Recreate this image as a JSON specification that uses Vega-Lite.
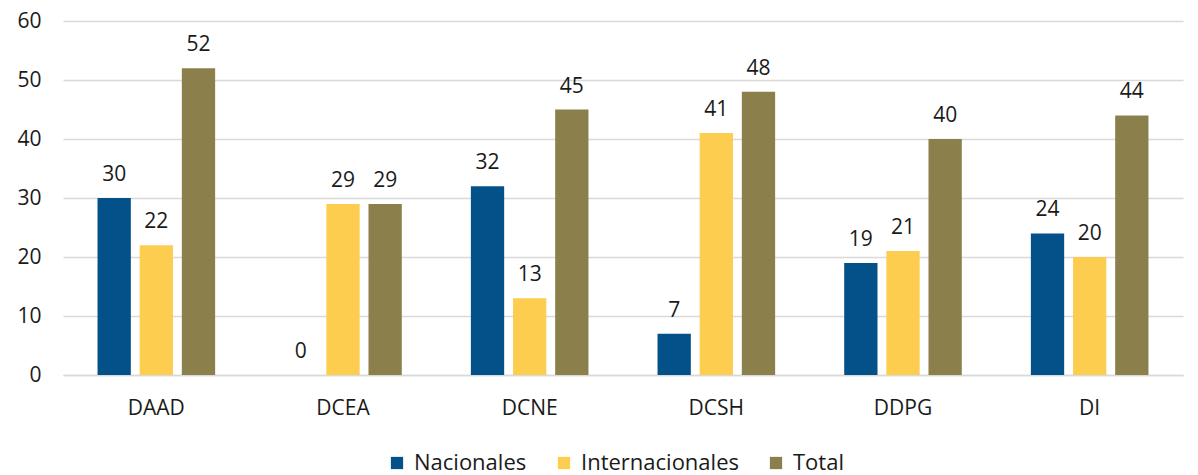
{
  "$schema": "https://vega.github.io/schema/vega-lite/v6.json",
  "autosize": {"type": "none"},
  "padding": {"left": 63, "top": 21, "right": 15, "bottom": 100},
  "width": 1120,
  "height": 354,
  "background": "white",
  "config": {"view": {"stroke": null}},
  "data": {"values": [
    {"dep": "DAAD", "serie": "Nacionales", "v": 30},
    {"dep": "DAAD", "serie": "Internacionales", "v": 22},
    {"dep": "DAAD", "serie": "Total", "v": 52},
    {"dep": "DCEA", "serie": "Nacionales", "v": 0},
    {"dep": "DCEA", "serie": "Internacionales", "v": 29},
    {"dep": "DCEA", "serie": "Total", "v": 29},
    {"dep": "DCNE", "serie": "Nacionales", "v": 32},
    {"dep": "DCNE", "serie": "Internacionales", "v": 13},
    {"dep": "DCNE", "serie": "Total", "v": 45},
    {"dep": "DCSH", "serie": "Nacionales", "v": 7},
    {"dep": "DCSH", "serie": "Internacionales", "v": 41},
    {"dep": "DCSH", "serie": "Total", "v": 48},
    {"dep": "DDPG", "serie": "Nacionales", "v": 19},
    {"dep": "DDPG", "serie": "Internacionales", "v": 21},
    {"dep": "DDPG", "serie": "Total", "v": 40},
    {"dep": "DI", "serie": "Nacionales", "v": 24},
    {"dep": "DI", "serie": "Internacionales", "v": 20},
    {"dep": "DI", "serie": "Total", "v": 44}
  ]},
  "encoding": {
    "x": {"field": "dep", "type": "nominal", "sort": null,
      "scale": {"paddingInner": 0.37, "paddingOuter": 0.185},
      "axis": {"title": null, "labelAngle": 0, "labelFont": "Open Sans", "labelFontSize": 21, "labelColor": "#1a1a1a",
        "domain": true, "domainColor": "#d9d9d9", "domainWidth": 1.5, "ticks": false, "labelPadding": 22, "grid": false}},
    "xOffset": {"field": "serie", "type": "nominal", "sort": ["Nacionales", "Internacionales", "Total"],
      "scale": {"paddingInner": 0.21}},
    "y": {"field": "v", "type": "quantitative",
      "scale": {"domain": [0, 60], "nice": false},
      "axis": {"title": null, "values": [0, 10, 20, 30, 40, 50, 60], "labelOverlap": false, "domain": false, "ticks": false,
        "gridColor": "#d9d9d9", "gridWidth": 1.5, "labelFont": "Open Sans", "labelFontSize": 21, "labelColor": "#1a1a1a",
        "labelPadding": 22}}
  },
  "layer": [
    {"mark": {"type": "bar"},
     "encoding": {
       "color": {"field": "serie", "type": "nominal", "sort": ["Nacionales", "Internacionales", "Total"],
         "scale": {"domain": ["Nacionales", "Internacionales", "Total"], "range": ["#04518A", "#FDCD50", "#8B7F4B"]},
         "legend": {"title": null, "orient": "none", "legendX": 323, "legendY": 431, "direction": "horizontal", "symbolType": "square",
           "symbolSize": 150, "symbolStrokeWidth": 0, "labelFont": "Open Sans", "labelFontSize": 22, "labelColor": "#1a1a1a",
           "columnPadding": 26, "labelOffset": 6}}
     }},
    {"mark": {"type": "text", "baseline": "alphabetic", "dy": -17, "font": "Open Sans", "fontSize": 21, "color": "#1a1a1a"},
     "encoding": {"text": {"field": "v", "type": "quantitative"}}}
  ]
}
